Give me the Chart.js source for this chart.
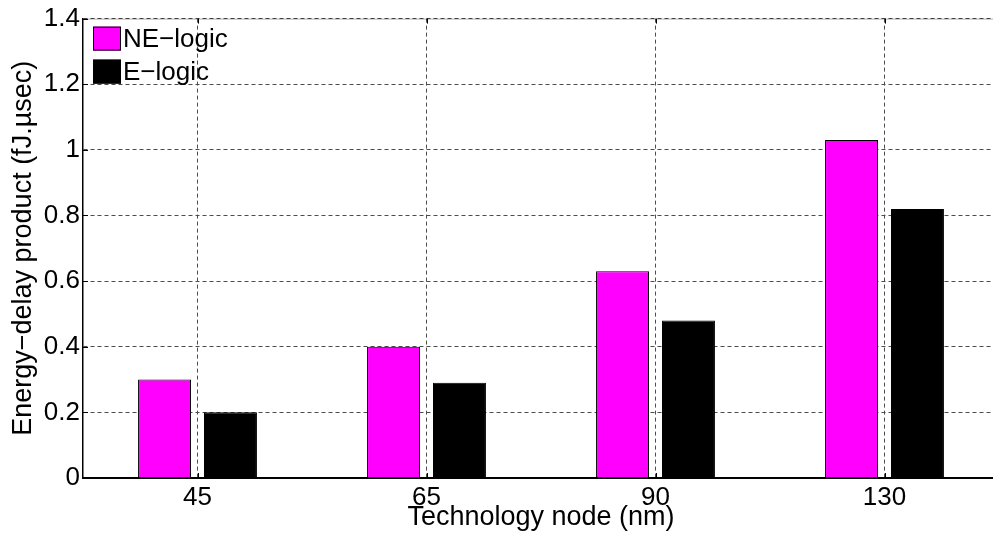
<!DOCTYPE html>
<html>
<head>
<meta charset="utf-8">
<script src="https://cdn.jsdelivr.net/npm/chart.js@4"></script>
<style>
  html, body { margin: 0; padding: 0; background: #fff; overflow: hidden; }
  #wrap { width: 1000px; height: 538px; }
</style>
</head>
<body>
<div id="wrap"><canvas id="c" width="1000" height="538"></canvas></div>
<script>
// data
const nodes = ['45', '65', '90', '130'];
const neLogic = [0.30, 0.40, 0.63, 1.03];
const eLogic = [0.20, 0.29, 0.48, 0.82];
const yTicks = [0, 0.2, 0.4, 0.6, 0.8, 1, 1.2, 1.4];

const FONT = '"Liberation Sans", Arial, Helvetica, sans-serif';
const gridColor = '#4d4d4d';

// legend inside the axes, top-left, like matlab
const boxLegend = {
  id: 'boxLegend',
  afterDraw(chart) {
    const { ctx, chartArea } = chart;
    const x0 = chartArea.left + 10;
    let y0 = chartArea.top + 8;
    ctx.save();
    ctx.font = '26px ' + FONT;
    ctx.textBaseline = 'middle';
    ctx.textAlign = 'left';
    chart.data.datasets.forEach(ds => {
      ctx.fillStyle = ds.backgroundColor;
      ctx.fillRect(x0, y0, 28, 24);
      ctx.strokeStyle = '#000';
      ctx.lineWidth = 1;
      ctx.strokeRect(x0 + 0.5, y0 + 0.5, 27, 23);
      ctx.fillStyle = '#000';
      ctx.fillText(ds.label, x0 + 30, y0 + 13);
      y0 += 33;
    });
    ctx.restore();
  }
};

// inward tick marks + top box edge
const axisTicks = {
  id: 'axisTicks',
  beforeDatasetsDraw(chart) {
    const { ctx, chartArea } = chart;
    ctx.save();
    ctx.strokeStyle = 'rgba(0,0,0,0.3)';
    ctx.lineWidth = 1;
    ctx.beginPath();
    ctx.moveTo(chartArea.left, chartArea.top + 0.5);
    ctx.lineTo(chartArea.right, chartArea.top + 0.5);
    ctx.stroke();
    ctx.restore();
  },
  afterDatasetsDraw(chart) {
    const { ctx, chartArea, scales } = chart;
    ctx.save();
    ctx.strokeStyle = '#000';
    ctx.lineWidth = 1;
    ctx.beginPath();
    yTicks.forEach(v => {
      const y = Math.round(scales.y.getPixelForValue(v)) + 0.5;
      ctx.moveTo(chartArea.left, y);
      ctx.lineTo(chartArea.left + 5, y);
    });
    nodes.forEach((n, i) => {
      const x = Math.round(scales.x.getPixelForValue(i)) + 0.5;
      ctx.moveTo(x, chartArea.bottom);
      ctx.lineTo(x, chartArea.bottom - 5);
      ctx.moveTo(x, chartArea.top);
      ctx.lineTo(x, chartArea.top + 5);
    });
    ctx.stroke();
    ctx.restore();
  }
};

new Chart(document.getElementById('c'), {
  type: 'bar',
  data: {
    labels: nodes,
    datasets: [
      { label: 'NE\u2212logic', data: neLogic, backgroundColor: '#FF00FF', borderColor: '#000', borderWidth: 1 },
      { label: 'E\u2212logic', data: eLogic, backgroundColor: '#000000', borderColor: '#000', borderWidth: 1 },
    ],
  },
  options: {
    responsive: false,
    animation: false,
    categoryPercentage: 0.576,
    barPercentage: 0.803,
    layout: { padding: { top: 15, right: 1, left: 0, bottom: 0 } },
    plugins: { legend: { display: false }, tooltip: { enabled: false } },
    scales: {
      x: {
        offset: true,
        grid: { offset: false, color: gridColor, drawTicks: false },
        border: { color: '#000', width: 2, dash: [4, 3] },
        ticks: { color: '#000', font: { family: FONT, size: 26 }, padding: 4, maxRotation: 0 },
        title: { display: true, text: 'Technology node (nm)', color: '#000',
                 font: { family: FONT, size: 27 }, padding: { top: 0, bottom: 4 } },
        afterFit: s => { s.height = 60; },
      },
      y: {
        min: 0, max: 1.4,
        afterBuildTicks: s => { s.ticks = yTicks.map(v => ({ value: v })); },
        grid: { color: gridColor, drawTicks: false },
        border: { color: '#000', width: 1.5, dash: [4, 3] },
        ticks: { color: '#000', font: { family: FONT, size: 26 }, padding: 3,
                 callback: v => String(+v.toFixed(1)) },
        title: { display: true, text: 'Energy\u2212delay product (fJ.\u00b5sec)', color: '#000',
                 font: { family: FONT, size: 27 }, padding: { top: 7, bottom: 0 } },
        afterFit: s => { s.width = 83; },
      },
    },
  },
  plugins: [boxLegend, axisTicks],
});
</script>
</body>
</html>
